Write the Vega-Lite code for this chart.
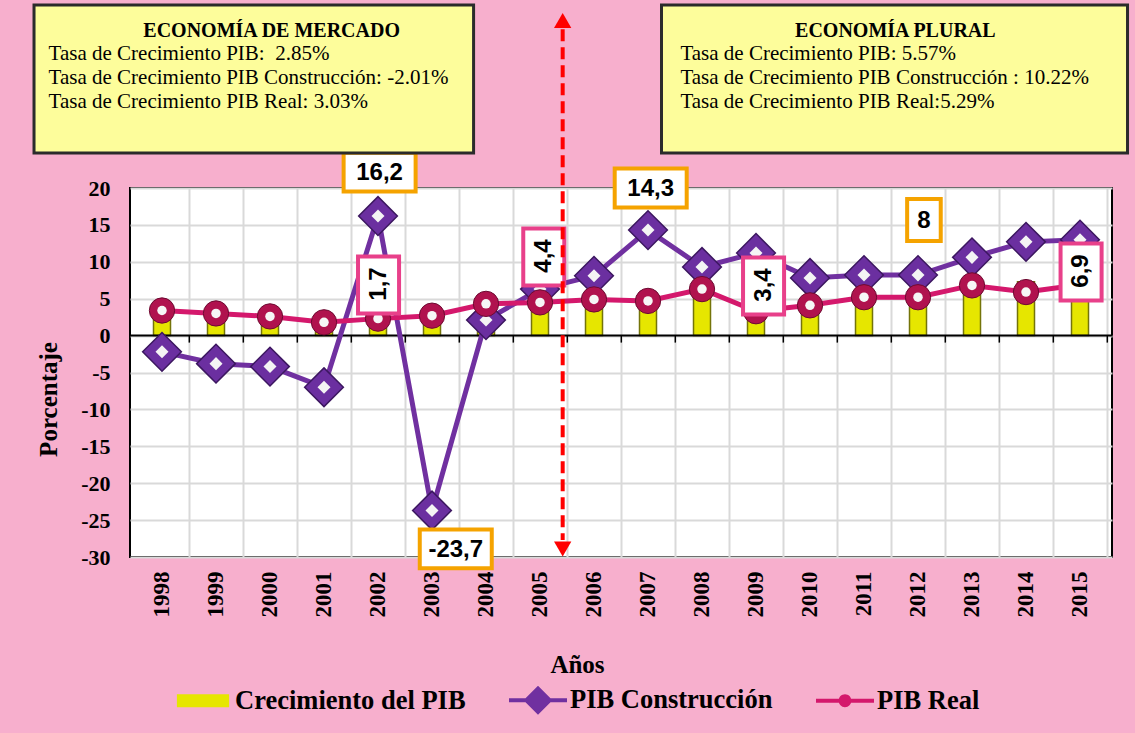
{
  "$schema": "https://vega.github.io/schema/vega-lite/v6.json",
  "width": 982,
  "height": 369,
  "autosize": {"type": "none"},
  "padding": {"left": 130, "top": 188, "right": 23, "bottom": 176},
  "background": "#f7afcd",
  "config": {
    "view": {"fill": "white", "stroke": "black", "strokeWidth": 2}
  },
  "datasets": {
    "main": [
      {"year": 1998, "serie": "Crecimiento del PIB", "valor": 3.1},
      {"year": 1999, "serie": "Crecimiento del PIB", "valor": 2.6},
      {"year": 2000, "serie": "Crecimiento del PIB", "valor": 2.2},
      {"year": 2001, "serie": "Crecimiento del PIB", "valor": 1.4},
      {"year": 2002, "serie": "Crecimiento del PIB", "valor": 2.0},
      {"year": 2003, "serie": "Crecimiento del PIB", "valor": 2.4},
      {"year": 2004, "serie": "Crecimiento del PIB", "valor": 4.0},
      {"year": 2005, "serie": "Crecimiento del PIB", "valor": 4.2},
      {"year": 2006, "serie": "Crecimiento del PIB", "valor": 4.6},
      {"year": 2007, "serie": "Crecimiento del PIB", "valor": 4.4},
      {"year": 2008, "serie": "Crecimiento del PIB", "valor": 6.0},
      {"year": 2009, "serie": "Crecimiento del PIB", "valor": 3.1},
      {"year": 2010, "serie": "Crecimiento del PIB", "valor": 3.8},
      {"year": 2011, "serie": "Crecimiento del PIB", "valor": 4.9},
      {"year": 2012, "serie": "Crecimiento del PIB", "valor": 4.9},
      {"year": 2013, "serie": "Crecimiento del PIB", "valor": 6.5},
      {"year": 2014, "serie": "Crecimiento del PIB", "valor": 7.3},
      {"year": 2015, "serie": "Crecimiento del PIB", "valor": 6.6},
      {"year": 1998, "serie": "PIB Construcción", "valor": -2.2},
      {"year": 1999, "serie": "PIB Construcción", "valor": -3.8},
      {"year": 2000, "serie": "PIB Construcción", "valor": -4.2},
      {"year": 2001, "serie": "PIB Construcción", "valor": -7.0},
      {"year": 2002, "serie": "PIB Construcción", "valor": 16.2},
      {"year": 2003, "serie": "PIB Construcción", "valor": -23.7},
      {"year": 2004, "serie": "PIB Construcción", "valor": 2.1},
      {"year": 2005, "serie": "PIB Construcción", "valor": 6.3},
      {"year": 2006, "serie": "PIB Construcción", "valor": 8.1},
      {"year": 2007, "serie": "PIB Construcción", "valor": 14.3},
      {"year": 2008, "serie": "PIB Construcción", "valor": 9.3},
      {"year": 2009, "serie": "PIB Construcción", "valor": 11.2},
      {"year": 2010, "serie": "PIB Construcción", "valor": 7.8},
      {"year": 2011, "serie": "PIB Construcción", "valor": 8.2},
      {"year": 2012, "serie": "PIB Construcción", "valor": 8.2},
      {"year": 2013, "serie": "PIB Construcción", "valor": 10.6},
      {"year": 2014, "serie": "PIB Construcción", "valor": 12.7},
      {"year": 2015, "serie": "PIB Construcción", "valor": 13.0},
      {"year": 1998, "serie": "PIB Real", "valor": 3.4},
      {"year": 1999, "serie": "PIB Real", "valor": 3.0},
      {"year": 2000, "serie": "PIB Real", "valor": 2.6},
      {"year": 2001, "serie": "PIB Real", "valor": 1.8},
      {"year": 2002, "serie": "PIB Real", "valor": 2.3},
      {"year": 2003, "serie": "PIB Real", "valor": 2.7},
      {"year": 2004, "serie": "PIB Real", "valor": 4.3},
      {"year": 2005, "serie": "PIB Real", "valor": 4.5},
      {"year": 2006, "serie": "PIB Real", "valor": 4.9},
      {"year": 2007, "serie": "PIB Real", "valor": 4.7},
      {"year": 2008, "serie": "PIB Real", "valor": 6.3},
      {"year": 2009, "serie": "PIB Real", "valor": 3.3},
      {"year": 2010, "serie": "PIB Real", "valor": 4.1},
      {"year": 2011, "serie": "PIB Real", "valor": 5.2},
      {"year": 2012, "serie": "PIB Real", "valor": 5.2},
      {"year": 2013, "serie": "PIB Real", "valor": 6.8},
      {"year": 2014, "serie": "PIB Real", "valor": 5.9},
      {"year": 2015, "serie": "PIB Real", "valor": 6.9}
    ],
    "notas": [
      {"txt": "16,2", "kind": "h", "year": 2002.03, "valor": 22.15},
      {"txt": "-23,7", "kind": "h", "year": 2003.44, "valor": -28.9},
      {"txt": "14,3", "kind": "h", "year": 2007.05, "valor": 20.0},
      {"txt": "8", "kind": "n", "year": 2012.11, "valor": 15.66},
      {"txt": "1,7", "kind": "v", "year": 2002.01, "valor": 6.86},
      {"txt": "4,4", "kind": "v", "year": 2005.07, "valor": 10.65},
      {"txt": "3,4", "kind": "v", "year": 2009.14, "valor": 6.72},
      {"txt": "6,9", "kind": "v", "year": 2015.02, "valor": 8.62}
    ]
  },
  "layer": [
    {
      "data": {"name": "main"},
      "transform": [{"filter": "datum.serie === 'Crecimiento del PIB'"}],
      "mark": {"type": "bar", "width": 17, "fill": "#e6e600", "stroke": "#74740a", "strokeWidth": 1.5},
      "encoding": {
        "x": {
          "field": "year", "type": "quantitative",
          "scale": {"domain": [1997.5, 2015.5], "nice": false, "zero": false},
          "axis": {
            "values": [1998.5, 1999.5, 2000.5, 2001.5, 2002.5, 2003.5, 2004.5, 2005.5, 2006.5, 2007.5, 2008.5, 2009.5, 2010.5, 2011.5, 2012.5, 2013.5, 2014.5, 2015.5],
            "tickCount": 40,
            "labelExpr": "'' + (datum.value - 0.5)",
            "labelOffset": -27.3,
            "labelAngle": 270,
            "labelAlign": "right",
            "labelBaseline": "middle",
            "labelPadding": 14,
            "labelFlush": false,
            "labelOverlap": false,
            "labelBound": false,
            "labelFont": "Liberation Serif",
            "labelFontWeight": "bold",
            "labelFontSize": 23,
            "labelColor": "black",
            "ticks": false,
            "domain": false,
            "grid": true,
            "gridColor": "#d9d9d9",
            "gridWidth": 2,
            "title": "Años",
            "titleFont": "Liberation Serif",
            "titleFontWeight": "bold",
            "titleFontSize": 25,
            "titleColor": "black",
            "titleX": 447,
            "titleY": 115,
            "titleBaseline": "alphabetic",
            "titleAlign": "center"
          }
        },
        "y": {
          "field": "valor", "type": "quantitative",
          "scale": {"domain": [-30, 20], "nice": false, "zero": false},
          "axis": {
            "values": [-30, -25, -20, -15, -10, -5, 0, 5, 10, 15, 20],
            "tickCount": 20,
            "labelExpr": "'' + datum.value",
            "labelOverlap": false,
            "labelFlush": false,
            "labelBound": false,
            "labelFont": "Liberation Serif",
            "labelFontWeight": "bold",
            "labelFontSize": 22,
            "labelColor": "black",
            "labelPadding": 20,
            "ticks": false,
            "domain": false,
            "grid": true,
            "gridColor": "#d9d9d9",
            "gridWidth": 2,
            "title": "Porcentaje",
            "titleFont": "Liberation Serif",
            "titleFontWeight": "bold",
            "titleFontSize": 25,
            "titleColor": "black",
            "titleAngle": 270,
            "titleX": -82,
            "titleY": 211,
            "titleAlign": "center",
            "titleBaseline": "middle"
          }
        }
      }
    },
    {
      "data": {"values": [{}]},
      "mark": {"type": "rule", "color": "black", "strokeWidth": 2},
      "encoding": {"y": {"datum": 0, "type": "quantitative"}}
    },
    {
      "data": {"name": "main"},
      "transform": [{"filter": "datum.serie === 'Crecimiento del PIB'"}],
      "mark": {"type": "rule", "color": "black", "strokeWidth": 1.5, "xOffset": 27.3, "y2Offset": 7},
      "encoding": {
        "x": {"field": "year", "type": "quantitative"},
        "y": {"datum": 0, "type": "quantitative"},
        "y2": {"datum": 0}
      }
    },
    {
      "data": {"name": "main"},
      "transform": [{"filter": "datum.serie === 'PIB Construcción'"}],
      "mark": {"type": "line", "stroke": "#7030a0", "strokeWidth": 5},
      "encoding": {
        "x": {"field": "year", "type": "quantitative"},
        "y": {"field": "valor", "type": "quantitative"}
      }
    },
    {
      "data": {"name": "main"},
      "transform": [{"filter": "datum.serie === 'PIB Construcción'"}],
      "mark": {"type": "point", "shape": "diamond", "size": 1500, "filled": true, "fill": "#6b2fa0", "stroke": "#3c1760", "strokeWidth": 1.5, "opacity": 1},
      "encoding": {
        "x": {"field": "year", "type": "quantitative"},
        "y": {"field": "valor", "type": "quantitative"}
      }
    },
    {
      "data": {"name": "main"},
      "transform": [{"filter": "datum.serie === 'PIB Construcción'"}],
      "mark": {"type": "point", "shape": "diamond", "size": 170, "filled": true, "fill": "#f4f4f4", "opacity": 1},
      "encoding": {
        "x": {"field": "year", "type": "quantitative"},
        "y": {"field": "valor", "type": "quantitative"}
      }
    },
    {
      "data": {"name": "main"},
      "transform": [{"filter": "datum.serie === 'PIB Real'"}],
      "mark": {"type": "line", "stroke": "#d4186c", "strokeWidth": 5},
      "encoding": {
        "x": {"field": "year", "type": "quantitative"},
        "y": {"field": "valor", "type": "quantitative"}
      }
    },
    {
      "data": {"name": "main"},
      "transform": [{"filter": "datum.serie === 'PIB Real'"}],
      "mark": {"type": "point", "shape": "circle", "size": 640, "filled": true, "fill": "#b0124e", "stroke": "#6d0a31", "strokeWidth": 1, "opacity": 1},
      "encoding": {
        "x": {"field": "year", "type": "quantitative"},
        "y": {"field": "valor", "type": "quantitative"}
      }
    },
    {
      "data": {"name": "main"},
      "transform": [{"filter": "datum.serie === 'PIB Real'"}],
      "mark": {"type": "point", "shape": "circle", "size": 90, "filled": true, "fill": "#f6f6f6", "opacity": 1},
      "encoding": {
        "x": {"field": "year", "type": "quantitative"},
        "y": {"field": "valor", "type": "quantitative"}
      }
    },
    {
      "data": {"name": "main"},
      "mark": {"type": "point", "filled": true, "opacity": 0},
      "encoding": {
        "x": {"field": "year", "type": "quantitative"},
        "y": {"field": "valor", "type": "quantitative"},
        "color": {
          "field": "serie", "type": "nominal",
          "scale": {"domain": ["Crecimiento del PIB", "PIB Construcción", "PIB Real"], "range": ["#e6e600", "#7030a0", "#d4186c"]},
          "legend": {"title": null, "orient": "none", "legendX": 44, "legendY": 483, "direction": "horizontal", "labelFont": "Liberation Serif", "labelFontWeight": "bold", "labelFontSize": 26.5, "labelColor": "black", "symbolSize": 3364, "symbolStrokeWidth": 0, "symbolOpacity": 1, "columnPadding": 43, "labelOffset": 3, "labelLimit": 400, "padding": 0}
        },
        "shape": {
          "field": "serie", "type": "nominal",
          "scale": {"domain": ["Crecimiento del PIB", "PIB Construcción", "PIB Real"], "range": ["M-0.9,-0.22H0.9V0.22H-0.9Z", "M-1,-0.07H1V0.07H-1Z M-0.5,0L0,-0.5L0.5,0L0,0.5Z", "M-1,-0.07H1V0.07H-1Z M-0.22,0A0.22,0.22 0 1,1 0.22,0A0.22,0.22 0 1,1 -0.22,0Z"]},
          "legend": {"title": null, "orient": "none", "legendX": 44, "legendY": 483, "direction": "horizontal", "labelFont": "Liberation Serif", "labelFontWeight": "bold", "labelFontSize": 26.5, "labelColor": "black", "symbolSize": 3364, "symbolStrokeWidth": 0, "symbolOpacity": 1, "columnPadding": 43, "labelOffset": 3, "labelLimit": 400, "padding": 0}
        }
      }
    },
    {
      "data": {"name": "notas"},
      "transform": [{"filter": "datum.kind === 'h'"}],
      "mark": {"type": "point", "shape": "M-1,-0.54H1V0.54H-1Z", "size": 5184, "filled": true, "fill": "white", "stroke": "#f5a300", "strokeWidth": 4, "opacity": 1},
      "encoding": {
        "x": {"field": "year", "type": "quantitative"},
        "y": {"field": "valor", "type": "quantitative"}
      }
    },
    {
      "data": {"name": "notas"},
      "transform": [{"filter": "datum.kind === 'n'"}],
      "mark": {"type": "point", "shape": "M-0.8,-1H0.8V1H-0.8Z", "size": 1764, "filled": true, "fill": "white", "stroke": "#f5a300", "strokeWidth": 4, "opacity": 1},
      "encoding": {
        "x": {"field": "year", "type": "quantitative"},
        "y": {"field": "valor", "type": "quantitative"}
      }
    },
    {
      "data": {"name": "notas"},
      "transform": [{"filter": "datum.kind === 'v'"}],
      "mark": {"type": "point", "shape": "M-0.72,-1H0.72V1H-0.72Z", "size": 3249, "filled": true, "fill": "white", "stroke": "#e8408a", "strokeWidth": 4, "opacity": 1},
      "encoding": {
        "x": {"field": "year", "type": "quantitative"},
        "y": {"field": "valor", "type": "quantitative"}
      }
    },
    {
      "data": {"name": "notas"},
      "transform": [{"filter": "datum.kind !== 'v'"}],
      "mark": {"type": "text", "font": "Liberation Sans", "fontWeight": "bold", "fontSize": 24, "color": "black", "align": "center", "baseline": "middle", "dy": 1},
      "encoding": {
        "x": {"field": "year", "type": "quantitative"},
        "y": {"field": "valor", "type": "quantitative"},
        "text": {"field": "txt"}
      }
    },
    {
      "data": {"name": "notas"},
      "transform": [{"filter": "datum.kind === 'v'"}],
      "mark": {"type": "text", "font": "Liberation Sans", "fontWeight": "bold", "fontSize": 24, "color": "black", "align": "center", "baseline": "middle", "angle": 270, "dx": 1},
      "encoding": {
        "x": {"field": "year", "type": "quantitative"},
        "y": {"field": "valor", "type": "quantitative"},
        "text": {"field": "txt"}
      }
    },
    {
      "data": {"values": [{}]},
      "mark": {"type": "rect", "fill": "#fdfd9b", "stroke": "#2b2b2b", "strokeWidth": 3},
      "encoding": {
        "x": {"datum": 1995.63, "type": "quantitative"},
        "x2": {"datum": 2003.77},
        "y": {"datum": 44.8, "type": "quantitative"},
        "y2": {"datum": 24.74}
      }
    },
    {
      "data": {"values": [{}]},
      "mark": {"type": "rect", "fill": "#fdfd9b", "stroke": "#2b2b2b", "strokeWidth": 3},
      "encoding": {
        "x": {"datum": 2007.25, "type": "quantitative"},
        "x2": {"datum": 2015.88},
        "y": {"datum": 44.8, "type": "quantitative"},
        "y2": {"datum": 24.74}
      }
    },
    {
      "data": {"values": [{}]},
      "mark": {"type": "text", "text": "ECONOMÍA DE MERCADO", "font": "Liberation Serif", "fontWeight": "bold", "fontSize": 20, "color": "black", "align": "center", "baseline": "alphabetic"},
      "encoding": {
        "x": {"datum": 2000.03, "type": "quantitative"},
        "y": {"datum": 40.46, "type": "quantitative"}
      }
    },
    {
      "data": {"values": [{}]},
      "mark": {"type": "text", "text": ["Tasa de Crecimiento PIB:\u00a0 2.85%", "Tasa de Crecimiento PIB Construcción: -2.01%", "Tasa de Crecimiento PIB Real: 3.03%"], "font": "Liberation Serif", "fontSize": 21, "lineHeight": 24, "color": "black", "align": "left", "baseline": "alphabetic"},
      "encoding": {
        "x": {"datum": 1995.9, "type": "quantitative"},
        "y": {"datum": 37.34, "type": "quantitative"}
      }
    },
    {
      "data": {"values": [{}]},
      "mark": {"type": "text", "text": "ECONOMÍA PLURAL", "font": "Liberation Serif", "fontWeight": "bold", "fontSize": 20, "color": "black", "align": "center", "baseline": "alphabetic"},
      "encoding": {
        "x": {"datum": 2011.58, "type": "quantitative"},
        "y": {"datum": 40.46, "type": "quantitative"}
      }
    },
    {
      "data": {"values": [{}]},
      "mark": {"type": "text", "text": ["Tasa de Crecimiento PIB: 5.57%", "Tasa de Crecimiento PIB Construcción : 10.22%", "Tasa de Crecimiento PIB Real:5.29%"], "font": "Liberation Serif", "fontSize": 21, "lineHeight": 24, "color": "black", "align": "left", "baseline": "alphabetic"},
      "encoding": {
        "x": {"datum": 2007.6, "type": "quantitative"},
        "y": {"datum": 37.34, "type": "quantitative"}
      }
    },
    {
      "data": {"values": [{}]},
      "mark": {"type": "rule", "color": "#ff0000", "strokeWidth": 4, "strokeDash": [12, 6]},
      "encoding": {
        "x": {"datum": 2005.42, "type": "quantitative"},
        "y": {"datum": 41.5, "type": "quantitative"},
        "y2": {"datum": -27.7}
      }
    },
    {
      "data": {"values": [{}]},
      "mark": {"type": "point", "shape": "triangle-up", "size": 300, "filled": true, "fill": "#ff0000", "opacity": 1},
      "encoding": {
        "x": {"datum": 2005.42, "type": "quantitative"},
        "y": {"datum": 42.7, "type": "quantitative"}
      }
    },
    {
      "data": {"values": [{}]},
      "mark": {"type": "point", "shape": "triangle-down", "size": 300, "filled": true, "fill": "#ff0000", "opacity": 1},
      "encoding": {
        "x": {"datum": 2005.42, "type": "quantitative"},
        "y": {"datum": -28.9, "type": "quantitative"}
      }
    }
  ]
}
